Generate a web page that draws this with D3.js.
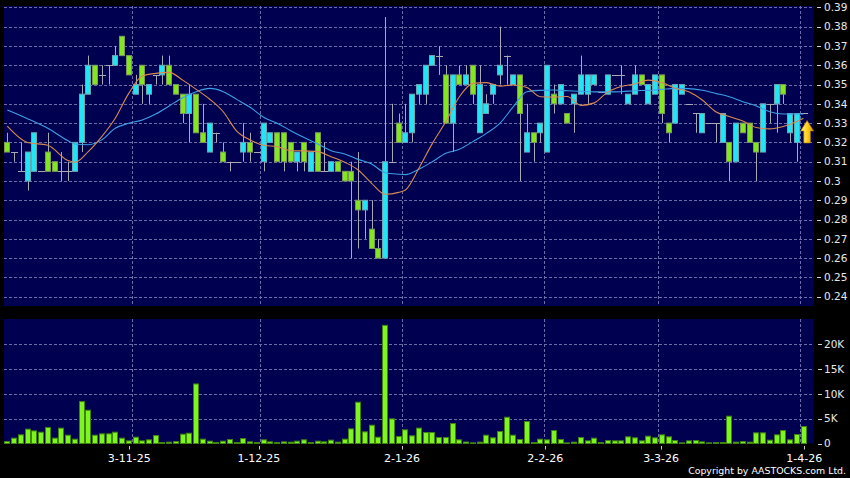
<!DOCTYPE html>
<html><head><meta charset="utf-8">
<script src="https://cdn.jsdelivr.net/npm/d3@7"></script>
<style>html,body{margin:0;padding:0;background:#000;}svg{display:block;}</style>
</head><body>
<svg id="chart" width="850" height="478"></svg>
<script>
// ---- data ----
const opens  = [.320,.315,.305,.300,.305,.305,.315,.310,.305,.305,.305,.320,.345,.360,.355,.360,.360,.375,.365,.345,.360,.345,.355,.355,.360,.350,.345,.335,.345,.325,.315,.325,.315,.310,.310,.315,.320,.315,.310,.320,.325,.325,.320,.310,.320,.305,.325,.305,.305,.310,.305,.305,.290,.285,.275,.265,.260,.310,.330,.320,.325,.345,.345,.360,.365,.355,.330,.355,.350,.360,.325,.335,.345,.355,.365,.350,.355,.315,.325,.325,.315,.345,.340,.335,.340,.345,.345,.350,.346,.345,.355,.355,.340,.345,.355,.340,.345,.355,.330,.330,.345,.340,.335,.325,.330,.330,.320,.320,.310,.330,.330,.320,.315,.340,.340,.350,.325,.320,.335];
const highs  = [.325,.315,.320,.315,.325,.305,.325,.310,.315,.310,.320,.350,.365,.360,.360,.360,.370,.375,.365,.355,.360,.350,.355,.365,.365,.350,.345,.350,.345,.340,.330,.325,.320,.310,.310,.330,.325,.315,.330,.325,.325,.325,.320,.315,.320,.315,.325,.320,.310,.310,.305,.310,.315,.290,.290,.270,.385,.340,.335,.340,.345,.350,.360,.365,.370,.360,.355,.360,.360,.360,.360,.345,.350,.380,.365,.355,.355,.340,.325,.330,.360,.350,.350,.335,.345,.365,.355,.355,.346,.355,.355,.360,.345,.360,.355,.350,.355,.355,.330,.350,.350,.340,.335,.335,.330,.330,.335,.320,.330,.330,.330,.320,.340,.340,.350,.350,.335,.335,.335];
const lows   = [.315,.310,.305,.295,.305,.305,.305,.305,.300,.300,.305,.315,.345,.350,.350,.350,.360,.365,.355,.345,.340,.340,.350,.350,.350,.345,.330,.320,.325,.320,.315,.320,.310,.305,.310,.310,.310,.315,.305,.320,.310,.305,.310,.305,.305,.305,.305,.305,.305,.305,.300,.260,.265,.270,.265,.260,.260,.310,.320,.320,.320,.340,.340,.360,.355,.330,.315,.350,.350,.340,.325,.335,.340,.350,.350,.350,.300,.315,.310,.320,.315,.335,.340,.330,.325,.345,.340,.350,.346,.345,.355,.345,.340,.345,.350,.340,.345,.330,.320,.330,.345,.340,.325,.325,.330,.320,.320,.300,.310,.325,.320,.300,.315,.330,.325,.340,.320,.310,.335];
const closes = [.315,.315,.305,.315,.325,.305,.305,.305,.305,.305,.320,.345,.360,.350,.355,.360,.365,.365,.355,.350,.350,.350,.355,.360,.350,.345,.335,.345,.325,.320,.330,.325,.310,.310,.310,.320,.315,.315,.330,.325,.310,.310,.310,.315,.310,.315,.305,.305,.310,.305,.300,.300,.285,.290,.265,.260,.310,.310,.320,.325,.345,.350,.360,.365,.365,.330,.355,.350,.355,.345,.350,.340,.350,.360,.365,.355,.335,.325,.320,.330,.360,.340,.350,.330,.345,.355,.355,.355,.346,.355,.355,.355,.345,.355,.350,.350,.355,.335,.325,.350,.350,.340,.335,.335,.330,.330,.335,.310,.330,.325,.320,.315,.340,.340,.350,.345,.335,.335,.335];
const volumes = [400,1070,1740,2880,2540,2270,3210,1070,3080,1670,870,8430,6690,1670,1940,1940,2270,1070,535,1270,535,735,1600,200,270,400,1870,2070,11970,870,470,200,470,800,200,1000,330,200,735,330,200,330,270,470,735,200,470,330,670,270,870,2940,8300,2340,3680,1270,23750,4950,1400,2750,1545,3090,2210,2210,1200,1200,4010,740,300,130,270,1670,1140,2410,5280,1670,800,4420,200,870,735,2610,800,130,270,1200,535,1070,200,600,535,535,1340,1140,535,1470,1140,1740,1340,600,130,535,600,330,130,200,200,5490,270,400,270,2140,2140,670,1740,2610,735,1810,3410];
const maIdx  = [1,4,7,10,11,13,15,17,19,21,23,25,27,29,31,33,35,37,39,41,43,45,47,49,51,53,55,57,59,60,62,64,66,68,70,72,74,76,78,80,82,84,86,88,90,92,94,96,98,100,102,104,106,108,110,112,114,116,118,119];
const maShort = [.3285,.3200,.3185,.3106,.3097,.3152,.3230,.3325,.3454,.3544,.3558,.3563,.3523,.3475,.3424,.3359,.3259,.3213,.3185,.3178,.3157,.3156,.3152,.3126,.3097,.3057,.2988,.2931,.2941,.2953,.3066,.3195,.3308,.3437,.3506,.3510,.3492,.3498,.3485,.3437,.3435,.3438,.3392,.3405,.3462,.3490,.3503,.3523,.3510,.3480,.3463,.3420,.3359,.3334,.3311,.3277,.3270,.3282,.3308,.3325];
const maLong  = [.3368,.3323,.3273,.3209,.3192,.3188,.3213,.3273,.3299,.3316,.3347,.3389,.3432,.3463,.3480,.3463,.3423,.3382,.3330,.3299,.3261,.3225,.3192,.3157,.3140,.3112,.3088,.3043,.3035,.3033,.3061,.3100,.3144,.3164,.3204,.3247,.3299,.3385,.3463,.3470,.3472,.3468,.3465,.3462,.3462,.3463,.3468,.3470,.3475,.3480,.3479,.3470,.3454,.3437,.3411,.3389,.3359,.3347,.3347,.3347];
const dateLabels = ["3-11-25","1-12-25","2-1-26","2-2-26","3-3-26","1-4-26"];
const dateIdx = [20,39,60,81,98,119];
const priceTicks = [0.24,0.25,0.26,0.27,0.28,0.29,0.30,0.31,0.32,0.33,0.34,0.35,0.36,0.37,0.38,0.39];
const volTicks = [0,5000,10000,15000,20000];
const volTickLabels = ["0","5K","10K","15K","20K"];

// ---- layout ----
const W = 850, H = 478;
const P = {left:4, right:814, top:6, bottom:306};
const V = {top:319, bottom:443.5};
const N = closes.length;
const svg = d3.select("#chart");
svg.append("rect").attr("width",W).attr("height",H).attr("fill","#000");

const x = d3.scaleLinear().domain([1,N]).range([7.3,803.5]);
const step = x(2)-x(1);
const xTick = d3.scaleLinear().domain([20,119]).range([129.3,804.3]);
const y = d3.scaleLinear().domain([0.24,0.39]).range([296.7,7.4]);
const yv = d3.scaleLinear().domain([0,20000]).range([V.bottom,344]);

const panelFill = "#000050", gridCol = "#6c6ca8";
svg.append("rect").attr("x",P.left).attr("y",P.top).attr("width",P.right-P.left).attr("height",P.bottom-P.top).attr("fill",panelFill);
svg.append("rect").attr("x",P.left).attr("y",V.top).attr("width",P.right-P.left).attr("height",V.bottom-V.top).attr("fill",panelFill);

const grid = svg.append("g").attr("stroke",gridCol).attr("stroke-width",1).attr("stroke-dasharray","3,2");
grid.selectAll(".hp").data(priceTicks).join("line")
  .attr("x1",P.left).attr("x2",P.right).attr("y1",d=>Math.round(y(d))+0.5).attr("y2",d=>Math.round(y(d))+0.5);
grid.selectAll(".hv").data(volTicks.slice(1)).join("line").attr("class","hv")
  .attr("x1",P.left).attr("x2",P.right).attr("y1",d=>Math.round(yv(d))+0.5).attr("y2",d=>Math.round(yv(d))+0.5);
grid.selectAll(".vp").data(dateIdx).join("line").attr("class","vp")
  .attr("x1",d=>Math.round(x(d)-step/2)+0.5).attr("x2",d=>Math.round(x(d)-step/2)+0.5).attr("y1",P.top).attr("y2",P.bottom);
grid.selectAll(".vv").data(dateIdx).join("line").attr("class","vv")
  .attr("x1",d=>Math.round(x(d)-step/2)+0.5).attr("x2",d=>Math.round(x(d)-step/2)+0.5).attr("y1",V.top).attr("y2",V.bottom);

// candles
const idx = d3.range(N);
const cg = svg.append("g");
const wickCol = "#a9a9b4";
cg.selectAll(".wick").data(idx).join("line")
  .attr("x1",i=>Math.round(x(i+1))+0.5).attr("x2",i=>Math.round(x(i+1))+0.5)
  .attr("y1",i=>y(highs[i])).attr("y2",i=>y(lows[i]))
  .attr("stroke",wickCol).attr("stroke-width",1);
const bw = 5;
cg.selectAll(".body").data(idx.filter(i=>opens[i]!==closes[i])).join("rect")
  .attr("x",i=>Math.round(x(i+1))-2.5).attr("width",bw)
  .attr("y",i=>y(Math.max(opens[i],closes[i]))).attr("height",i=>Math.abs(y(opens[i])-y(closes[i])))
  .attr("fill",i=>closes[i]>opens[i]?"#1fe6f2":"#84e61c")
  .attr("stroke",i=>closes[i]>opens[i]?"#6aa6b6":"#7a9a5a").attr("stroke-width",1);
cg.selectAll(".doji").data(idx.filter(i=>opens[i]===closes[i])).join("line")
  .attr("x1",i=>Math.round(x(i+1))-3).attr("x2",i=>Math.round(x(i+1))+4)
  .attr("y1",i=>Math.round(y(opens[i]))+0.5).attr("y2",i=>Math.round(y(opens[i]))+0.5)
  .attr("stroke",wickCol).attr("stroke-width",1);

// moving averages
const line = d3.line().x(d=>x(d[0])).y(d=>y(d[1])).curve(d3.curveMonotoneX);
svg.append("path").datum(maIdx.map((d,k)=>[d,maLong[k]])).attr("d",line)
  .attr("fill","none").attr("stroke","#3c9ee6").attr("stroke-width",1.1);
svg.append("path").datum(maIdx.map((d,k)=>[d,maShort[k]])).attr("d",line)
  .attr("fill","none").attr("stroke","#d98a52").attr("stroke-width",1.1);

// arrow at last close
const defs = svg.append("defs");
const gr = defs.append("linearGradient").attr("id","ag").attr("x1","0").attr("x2","1").attr("y1","0").attr("y2","0");
gr.append("stop").attr("offset","0").attr("stop-color","#fff27a");
gr.append("stop").attr("offset","0.5").attr("stop-color","#ffd21e");
gr.append("stop").attr("offset","1").attr("stop-color","#e09200");
const ax = x(N)+3.6, ay = y(closes[N-1])+7;
svg.append("path")
  .attr("d",`M${ax},${ay} L${ax+6.5},${ay+10.5} L${ax+3.3},${ay+10.5} L${ax+3.3},${ay+22.5} L${ax-3.3},${ay+22.5} L${ax-3.3},${ay+10.5} L${ax-6.5},${ay+10.5} Z`)
  .attr("fill","url(#ag)").attr("stroke","#b07a00").attr("stroke-width",0.6);

// volume bars
svg.append("g").selectAll("rect").data(idx).join("rect")
  .attr("x",i=>Math.round(x(i+1))-2.5).attr("width",bw)
  .attr("y",i=>yv(volumes[i])).attr("height",i=>Math.max(0,yv(0)-yv(volumes[i])))
  .attr("fill","#7ef51e").attr("stroke","#3e8210").attr("stroke-width",1);

// axes text
const font = "DejaVu Sans, Verdana, sans-serif";
const ya = svg.append("g").attr("font-family",font).attr("font-size",10.5).attr("fill","#e8e8e8");
ya.selectAll("line").data(priceTicks).join("line")
  .attr("x1",817).attr("x2",821).attr("y1",d=>Math.round(y(d))+0.5).attr("y2",d=>Math.round(y(d))+0.5).attr("stroke","#d0d0d0");
ya.selectAll("text").data(priceTicks).join("text")
  .attr("x",824).attr("y",d=>y(d)).attr("dy","0.36em").text(d=>String(+d.toFixed(2)));
const va = svg.append("g").attr("font-family",font).attr("font-size",10.5).attr("fill","#e8e8e8");
va.selectAll("line").data(volTicks).join("line")
  .attr("x1",818).attr("x2",822).attr("y1",d=>Math.round(yv(d))+0.5).attr("y2",d=>Math.round(yv(d))+0.5).attr("stroke","#d0d0d0");
va.selectAll("text").data(volTicks).join("text")
  .attr("x",824).attr("y",d=>yv(d)).attr("dy","0.36em").text((d,k)=>volTickLabels[k]);

const xa = svg.append("g").attr("font-family",font).attr("font-size",11).attr("fill","#ffffff");
xa.selectAll("line").data(dateIdx).join("line")
  .attr("x1",d=>Math.round(xTick(d))+0.5).attr("x2",d=>Math.round(xTick(d))+0.5).attr("y1",446).attr("y2",449.5).attr("stroke","#c8c8c8");
xa.selectAll("text").data(dateIdx).join("text")
  .attr("x",d=>xTick(d)).attr("y",461.5).attr("text-anchor","middle").text((d,k)=>dateLabels[k]);

svg.append("text").attr("x",846).attr("y",474).attr("text-anchor","end")
  .attr("font-family",font).attr("font-size",9.4).attr("fill","#ffffff").text("Copyright by AASTOCKS.com Ltd.");
</script>
</body></html>
